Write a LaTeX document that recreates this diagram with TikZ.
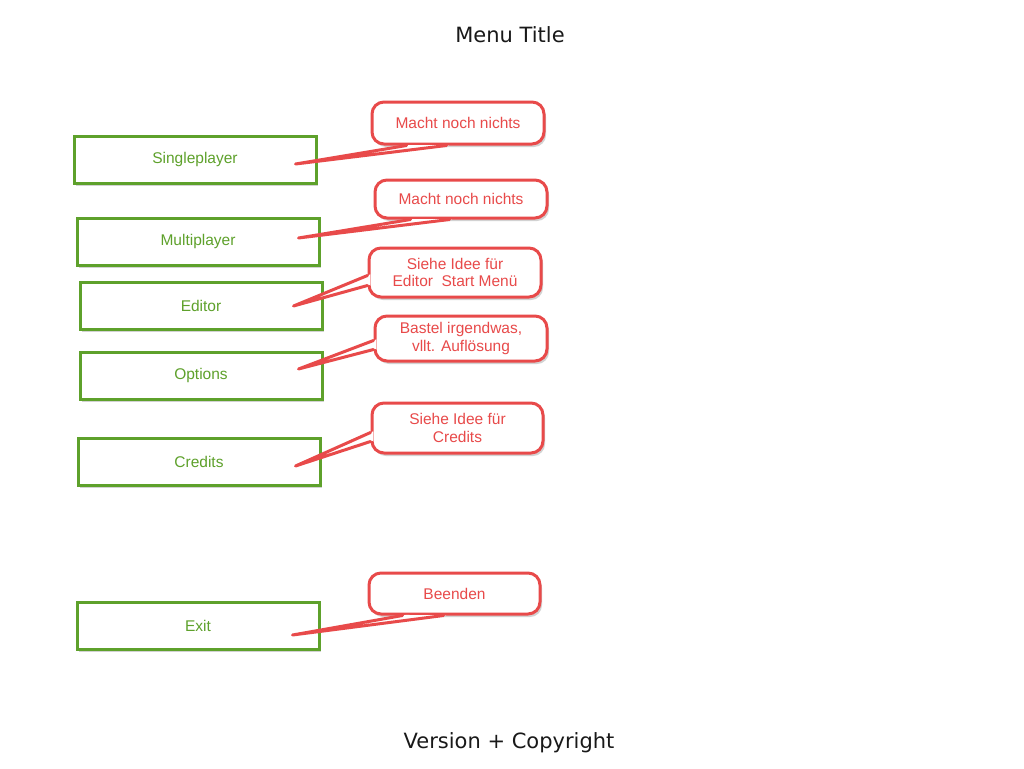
\documentclass[tikz,border=0pt]{standalone}
\usepackage{fontspec}
\setmainfont{Liberation Sans}
\newfontfamily\titlefont{DejaVu Sans}
\usetikzlibrary{calc,shadows}
\definecolor{menugreen}{HTML}{5EA12B}
\definecolor{notered}{HTML}{E84A4A}
\tikzset{
  menubtn/.style={draw=menugreen, line width=3pt, fill=white, text=menugreen,
    minimum width=242pt, minimum height=47pt, font=\fontsize{15.5}{17}\selectfont,
    drop shadow={shadow xshift=2pt, shadow yshift=-3pt, opacity=.35}},
  menunote/.style={draw=notered, line width=3pt, fill=white, text=notered,
    rounded corners=12pt, align=center, font=\fontsize{15.5}{17.5}\selectfont,
    drop shadow={shadow xshift=2pt, shadow yshift=-3pt, opacity=.35}},
  tailline/.style={draw=notered, line width=3pt, line join=round, line cap=round},
  heading/.style={font=\titlefont\fontsize{21}{25}\selectfont, text=black!90}
}
% #1,#2 base of the tail on the note, #3 its tip
\newcommand\notetail[3]{
  \fill[white] ($(#1)!-3pt!(#3)$) -- (#3) -- ($(#2)!-3pt!(#3)$) -- cycle;
  \draw[tailline] (#1) -- (#3) -- (#2);
}
\begin{document}
\begin{tikzpicture}[x=1pt, y=-1pt]
  \useasboundingbox[fill=white] (0,0) rectangle (1024,768);
  \node[heading] (title) at (510,35) {Menu Title};
  \node[heading] (version) at (509,743) {Version + Copyright};

  \foreach \n/\x/\y/\t in {single/195/159.5/Singleplayer, multi/198/241.5/Multiplayer,
      editor/201/305.5/Editor, options/201/375.5/Options,
      credits/199/461.5/Credits, exit/198/625.5/Exit}
    \node[menubtn] (\n) at (\x,\y) {\t};

  \node[menunote, minimum width=172pt, minimum height=42pt] (nsingle) at (458,123) {Macht noch nichts};
  \node[menunote, minimum width=172pt, minimum height=38pt] (nmulti) at (461,199) {Macht noch nichts};
  \node[menunote, minimum width=172pt, minimum height=49pt] (neditor) at (455,272.5) {Siehe Idee für\\Editor\ \ Start Menü};
  \node[menunote, minimum width=172pt, minimum height=45pt] (noptions) at (461,338.5) {Bastel irgendwas,\\vllt. Auflösung};
  \node[menunote, minimum width=171pt, minimum height=50pt] (ncredits) at (457.5,428) {Siehe Idee für\\Credits};
  \node[menunote, minimum width=171pt, minimum height=41pt] (nexit) at (454.5,593.5) {Beenden};

  \coordinate (s1) at ($(nsingle.south west)+(36,0)$);
  \coordinate (s2) at ($(nsingle.south west)+(76,0)$);
  \coordinate (st) at ($(single.east)+(-22,4.5)$);
  \notetail{s1}{s2}{st}

  \coordinate (m1) at ($(nmulti.south west)+(37,0)$);
  \coordinate (m2) at ($(nmulti.south west)+(76,0)$);
  \coordinate (mt) at ($(multi.east)+(-22,-3.5)$);
  \notetail{m1}{m2}{mt}

  \coordinate (e1) at ($(neditor.south west)+(0,-23)$);
  \coordinate (e2) at ($(neditor.south west)+(0,-13)$);
  \coordinate (et) at ($(editor.east)+(-30,0.5)$);
  \notetail{e1}{e2}{et}

  \coordinate (o1) at ($(noptions.south west)+(0,-22)$);
  \coordinate (o2) at ($(noptions.south west)+(0,-13)$);
  \coordinate (ot) at ($(options.east)+(-25,-6.5)$);
  \notetail{o1}{o2}{ot}

  \coordinate (c1) at ($(ncredits.south west)+(0,-22)$);
  \coordinate (c2) at ($(ncredits.south west)+(0,-13)$);
  \coordinate (ct) at ($(credits.east)+(-26,4.5)$);
  \notetail{c1}{c2}{ct}

  \coordinate (x1) at ($(nexit.south west)+(35,0)$);
  \coordinate (x2) at ($(nexit.south west)+(76,0)$);
  \coordinate (xt) at ($(exit.east)+(-28,9.5)$);
  \notetail{x1}{x2}{xt}
\end{tikzpicture}
\end{document}
